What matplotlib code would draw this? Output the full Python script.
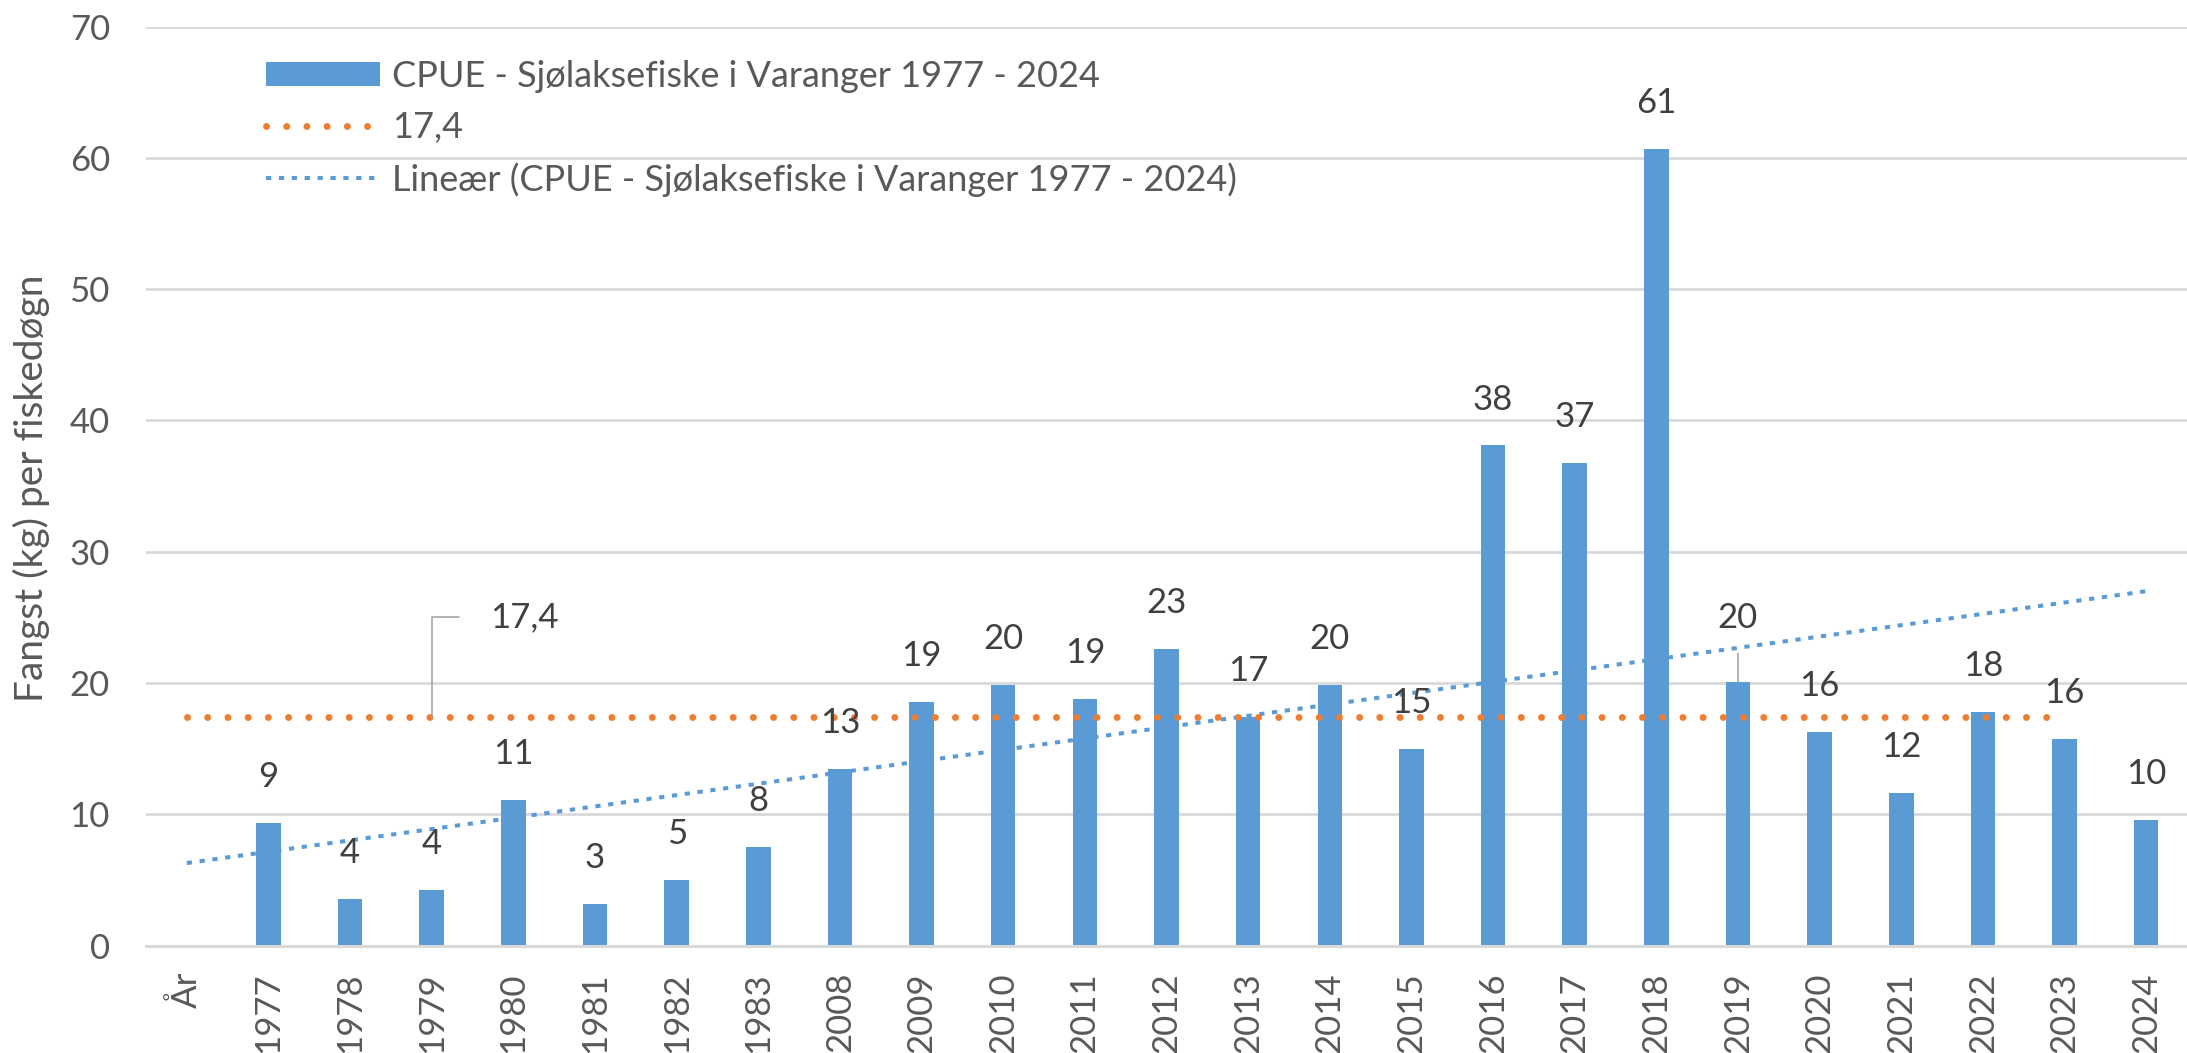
import matplotlib
matplotlib.use('Agg')
import matplotlib.pyplot as plt
import numpy as np
from matplotlib.patches import Patch
from matplotlib.lines import Line2D

plt.rcParams['font.family'] = ['Lato', 'DejaVu Sans']

# ---------------- data ----------------
categories = ['År', '1977', '1978', '1979', '1980', '1981', '1982', '1983',
              '2008', '2009', '2010', '2011', '2012', '2013', '2014', '2015',
              '2016', '2017', '2018', '2019', '2020', '2021', '2022', '2023', '2024']
cpue = [np.nan, 9.33, 3.55, 4.25, 11.1, 3.18, 5.0, 7.52,
        13.44, 18.55, 19.87, 18.8, 22.6, 17.4, 19.87, 15.0,
        38.1, 36.78, 60.65, 20.1, 16.29, 11.64, 17.79, 15.75, 9.58]
average_value = 17.4
average_label = '17,4'
series_label = 'CPUE - Sjølaksefiske i Varanger 1977 - 2024'
average_legend = '17,4'
trend_label = 'Lineær (CPUE - Sjølaksefiske i Varanger 1977 - 2024)'
y_label = 'Fangst (kg) per fiskedøgn'
y_ticks = [0, 10, 20, 30, 40, 50, 60, 70]

# ---------------- style ----------------
BAR = '#5B9BD5'
ORANGE = '#ED7D31'
GRID = '#D9D9D9'
TICK = '#595959'
LABEL = '#404040'
LEADER = '#A6A6A6'
FS = 25
LFS = 26

W, H = 2187, 1053
fig = plt.figure(figsize=(W / 100, H / 100), dpi=100)
ax = fig.add_axes([146 / W, 1 - 945.7 / H, 1 - 146 / W, (945.7 - 26.5) / H])

x = np.arange(len(categories))
vals = np.array(cpue, dtype=float)

ax.bar(x, vals, width=0.3, color=BAR, zorder=2)

# average line (category År .. 2023)
avg_x = x[:-1]
ax.plot(avg_x, np.full(len(avg_x), average_value), color=ORANGE, lw=5,
        linestyle=(0, (0.01, 2.9)), dash_capstyle='round', zorder=4)

# linear trend (Excel treats blank År as zero)
coef = np.polyfit(x, np.nan_to_num(vals), 1)
trend = np.polyval(coef, x)
ax.plot(x, trend, color=BAR, lw=2.9, linestyle=(0, (1.3, 1.9)),
        dash_capstyle='butt', zorder=3)

# data labels
for i, v in enumerate(vals):
    if np.isnan(v):
        continue
    txt = str(int(np.floor(v + 0.5)))
    if categories[i] == '2019':
        ax.annotate(txt, (i, v), xytext=(0, 46), textcoords='offset points',
                    ha='center', va='center', fontsize=FS, color=LABEL, zorder=6,
                    arrowprops=dict(arrowstyle='-', color=LEADER, lw=1.2,
                                    shrinkA=12, shrinkB=0))
    else:
        ax.annotate(txt, (i, v), xytext=(0, 33), textcoords='offset points',
                    ha='center', va='center', fontsize=FS, color=LABEL, zorder=6)

# label for average line with leader
ax.annotate(average_label, xy=(3, average_value), xytext=(4.14, 25.0),
            textcoords='data', ha='center', va='center', fontsize=FS,
            color=LABEL, zorder=6,
            arrowprops=dict(arrowstyle='-', color=LEADER, lw=1.2,
                            connectionstyle='angle,angleA=0,angleB=90,rad=0',
                            shrinkA=21, shrinkB=0))

ax.set_xlim(-0.5, len(categories) - 0.5)
ax.set_ylim(0, 70)
ax.set_yticks(y_ticks)
ax.set_xticks(x)
ax.set_xticklabels(categories, rotation=90, fontsize=FS, color=TICK)
ax.tick_params(axis='y', length=0, pad=26, labelsize=FS, labelcolor=TICK)
ax.tick_params(axis='x', length=0, pad=19)

ax.yaxis.grid(True, color=GRID, lw=2)
ax.set_axisbelow(True)
for s in ['left', 'right', 'top']:
    ax.spines[s].set_visible(False)
ax.spines['bottom'].set_color(GRID)
ax.spines['bottom'].set_linewidth(2.2)

fig.text(31 / W, 1 - 488 / H, y_label, rotation=90, ha='center', va='center',
         fontsize=28, color=TICK)

handles = [Patch(facecolor=BAR, edgecolor='none'),
           Line2D([], [], color=ORANGE, lw=5, linestyle=(0, (0.01, 2.9)),
                  dash_capstyle='round'),
           Line2D([], [], color=BAR, lw=2.9, linestyle=(0, (1.3, 1.9)))]
leg = ax.legend(handles, [series_label, average_legend, trend_label],
                loc='upper left', bbox_to_anchor=(266 / W, 1 - 60 / H),
                bbox_transform=fig.transFigure, frameon=False, fontsize=LFS,
                handlelength=3.15, handletextpad=0.33, labelspacing=0.5,
                handleheight=0.65, borderpad=0, borderaxespad=0)
for t in leg.get_texts():
    t.set_color(TICK)

fig.savefig('out.png', dpi=100)
